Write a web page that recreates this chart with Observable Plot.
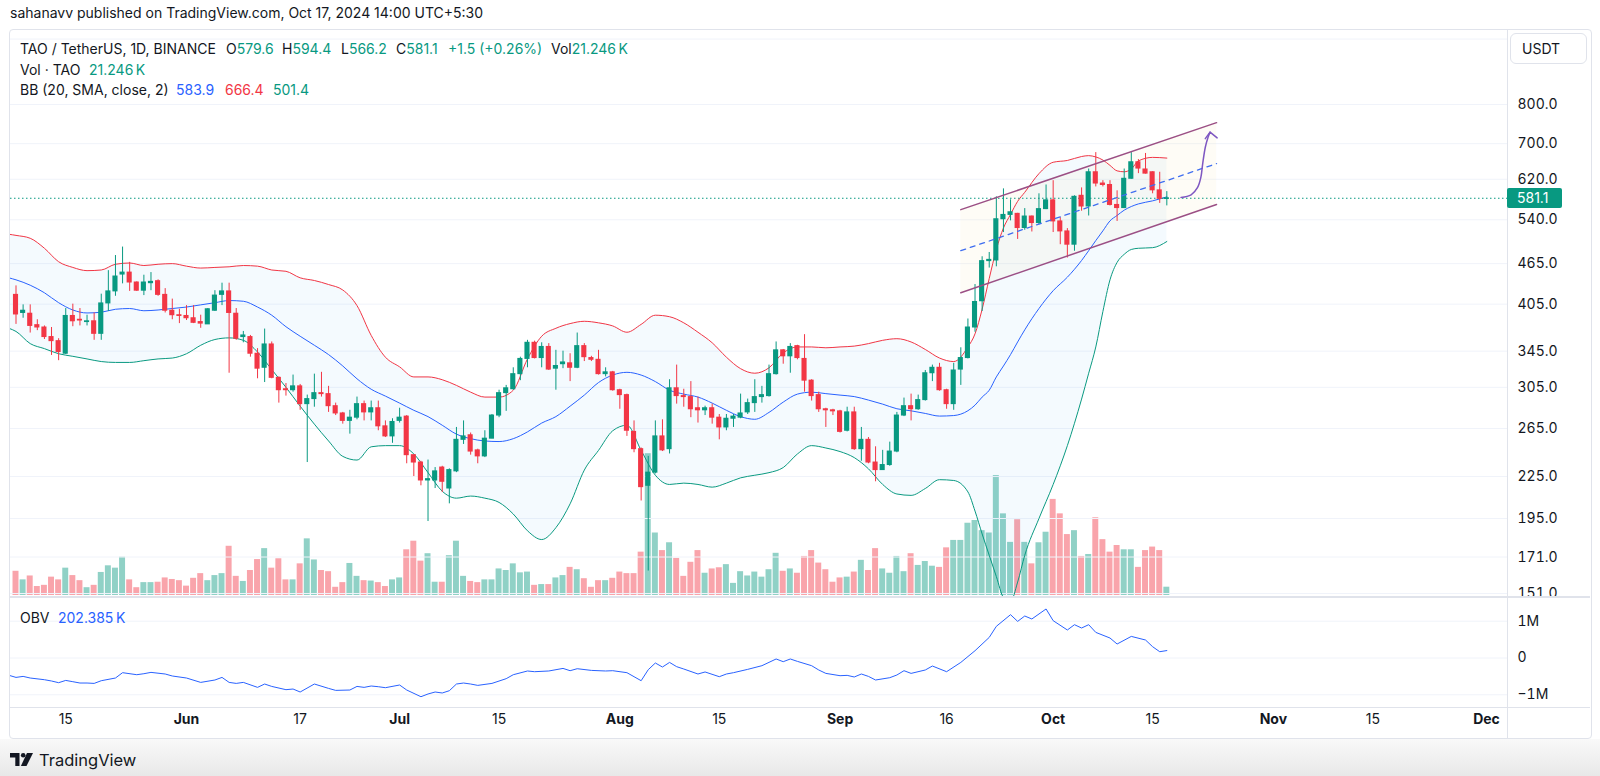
<!DOCTYPE html>
<html><head><meta charset="utf-8">
<script src="https://cdn.jsdelivr.net/npm/d3@7"></script>
<script src="https://cdn.jsdelivr.net/npm/@observablehq/plot@0.6"></script>
<style>
html,body{margin:0;padding:0;background:#fff;}
body{width:1600px;height:776px;position:relative;overflow:hidden;font-family:Inter,"Noto Sans",sans-serif;color:#131722;}
.abs{position:absolute;white-space:nowrap;}
.leg{font-size:14px;line-height:16px;}
.teal{color:#089981}.blue{color:#2962ff}.red{color:#f23645}
</style></head><body>
<div class="abs" style="left:0;top:739px;width:1600px;height:37px;background:linear-gradient(#f9f9f9,#e8e8e8)"></div>
<div class="abs" style="left:9px;top:29px;width:1581px;height:708px;border:1px solid #e0e3eb;border-radius:4px;background:#fff"></div>
<div class="abs" style="left:10px;top:4px;font-size:14px;line-height:17px">sahanavv published on TradingView.com, Oct 17, 2024 14:00 UTC+5:30</div>
<div id="volBox" class="abs" style="left:10px;top:30px;width:1580px;height:567px"></div>
<div id="priceBox" class="abs" style="left:10px;top:30px;width:1580px;height:567px"></div>
<div id="obvBox" class="abs" style="left:10px;top:597px;width:1580px;height:142px"></div>
<div class="abs" style="left:10px;top:596px;width:1580px;height:2px;background:#e0e3eb"></div>
<div class="abs" style="left:10px;top:707px;width:1580px;height:1px;background:#e0e3eb"></div>
<div class="abs" style="left:1507px;top:30px;width:1px;height:708px;background:#e0e3eb"></div>
<div class="abs" style="left:1510px;top:33px;width:75px;height:29px;border:1px solid #e0e3eb;border-radius:6px;background:#fff"></div>
<div class="abs leg" style="left:1522px;top:41px">USDT</div>
<div id="lastLbl" class="abs leg" style="left:1507px;width:55px;height:20px;background:#089981;color:#fff;border-radius:2px;line-height:20px;padding-left:10px;box-sizing:border-box">581.1</div>
<!-- legend -->
<div class="abs leg" style="left:20px;top:41px">TAO / TetherUS, 1D, BINANCE</div>
<div class="abs leg" style="left:226px;top:41px">O<span class="teal">579.6</span></div>
<div class="abs leg" style="left:282px;top:41px">H<span class="teal">594.4</span></div>
<div class="abs leg" style="left:341px;top:41px">L<span class="teal">566.2</span></div>
<div class="abs leg" style="left:396px;top:41px">C<span class="teal">581.1</span></div>
<div class="abs leg teal" style="left:448px;top:41px">+1.5 (+0.26%)</div>
<div class="abs leg" style="left:551px;top:41px">Vol<span class="teal">21.246&#8201;K</span></div>
<div class="abs leg" style="left:20px;top:62px">Vol · TAO</div>
<div class="abs leg teal" style="left:89px;top:62px">21.246&#8201;K</div>
<div class="abs leg" style="left:20px;top:82px">BB (20, SMA, close, 2)</div>
<div class="abs leg blue" style="left:176px;top:82px">583.9</div>
<div class="abs leg red" style="left:225px;top:82px">666.4</div>
<div class="abs leg teal" style="left:273px;top:82px">501.4</div>
<div class="abs leg" style="left:20px;top:610px">OBV</div>
<div class="abs leg blue" style="left:58px;top:610px">202.385&#8201;K</div>
<svg class="abs" style="left:10px;top:753px" width="25" height="13" viewBox="0 0 25 13"><path d="M0 0h9.5v13h-4.2v-8.6H0z" fill="#131722"/><circle cx="13.2" cy="2.3" r="2.3" fill="#131722"/><path d="M17 0h6l-6.5 13h-5.6z" fill="#131722"/></svg>
<div class="abs" style="left:39px;top:750px;font-size:16.5px;line-height:20px">TradingView</div>
<script>
// ---- daily candles (from 2024-05-08) ----
const open = [418,393,392,377,374,362,357,342,389,384, 381,382,366,406,423,448,451,436,424,435,
 438,418,396,390,389,386,381,378,396,418, 423,392,362,362,342,326,353,315,303,302,
 306,288,293,299,298,286,279,272,275,288, 280,284,267,258,272,276,242,236,222,222,
 232,216,229,255,259,246,241,256,277,299, 303,319,336,355,337,350,325,330,331,326,
 351,337,335,319,321,302,297,262,247,218, 228,258,247,304,296,295,284,282,284,275,
 266,274,275,280,289,295,296,319,346,339, 351,336,312,297,283,282,281,263,280,247,
 255,236,230,234,245,277,286,283,292,320, 326,302,288,324,337,374,409,469,470,541,
 549,551,525,546,534,560,577,537,519,496, 586,565,635,611,608,568,562,621,657,641,
 635,597,579.6];
const high = [431,404,404,384,376,374,360,399,405,399, 390,393,419,454,478,492,467,437,447,451,
 440,427,412,398,403,403,390,399,424,435, 435,399,369,364,348,372,356,316,309,318,
 308,297,319,321,306,289,280,282,295,291, 291,291,272,274,284,277,242,237,238,232,
 233,231,266,272,261,247,263,278,302,307, 326,338,358,357,355,354,346,345,342,367,
 354,339,346,326,322,303,298,272,248,241, 272,273,313,329,303,311,295,286,288,278,
 278,278,298,293,313,306,329,356,347,354, 352,365,313,300,284,283,282,285,285,266,
 257,249,246,253,280,294,298,297,323,329, 331,303,331,349,385,433,476,483,584,600,
 578,552,561,547,590,608,617,544,524,586, 602,642,679,617,617,596,642,679,663,677,
 636,635,594.4];
const low = [378,386,367,370,359,340,334,341,375,376, 376,358,358,395,416,434,423,423,417,424,
 416,393,384,379,383,379,373,378,395,403, 320,358,355,338,314,310,314,289,296,300,
 282,236,285,295,280,277,269,260,273,272, 272,263,257,252,270,235,225,218,193,216,
 213,205,228,251,242,235,240,256,275,281, 302,312,326,336,326,323,302,325,311,325,
 333,333,318,316,301,283,258,244,207,163, 227,245,243,288,285,275,270,277,269,255,
 263,266,274,278,280,289,295,318,330,320, 335,300,291,280,266,277,261,262,246,237,
 235,221,230,233,244,276,272,282,291,311, 301,283,282,307,336,368,395,458,460,517,
 538,505,521,518,531,559,517,496,474,485, 556,547,604,604,566,537,561,620,632,631,
 590,571,566.2];
const close = [391,396,376,374,362,357,344,389,382,383, 382,366,406,423,445,451,436,424,436,437,
 418,396,390,389,386,380,379,398,417,423, 393,360,364,342,325,353,315,302,302,306,
 288,293,299,298,286,279,272,275,288,280, 284,267,258,271,275,242,236,222,223,229,
 221,230,255,258,245,241,256,277,299,304, 319,336,355,337,350,324,328,332,326,351,
 338,335,319,321,302,297,263,247,217,228, 258,246,304,296,295,283,282,284,275,266,
 274,276,279,289,295,297,319,346,339,350, 337,312,296,283,282,281,262,280,247,255,
 236,230,234,245,277,286,283,292,320,326, 302,288,323,337,374,408,469,471,541,549,
 554,525,546,534,560,577,537,519,496,584, 565,635,611,608,568,562,621,657,643,632,
 597,580,581.1];
// volume, thousands of TAO
const volume = [62,40,50,23,26,47,40,70,51,38, 20,26,59,76,70,98,40,20,33,33,
 34,45,41,38,24,44,56,38,51,56, 126,49,36,64,92,120,70,94,40,40,
 81,145,91,64,61,21,33,82,49,38, 37,33,23,40,45,117,139,88,107,34,
 34,102,139,49,36,33,40,40,68,64, 81,58,60,26,28,28,45,51,72,66,
 43,21,38,38,44,60,56,56,111,363, 160,115,135,95,49,85,115,57,68,71,
 79,31,61,50,60,47,66,108,62,68, 57,100,115,83,66,34,45,47,60,90,
 64,120,68,57,100,61,107,77,87,75, 72,122,141,141,185,192,166,160,307,209,
 136,194,136,81,135,162,246,209,156,166, 100,105,199,143,111,128,117,117,72,115,
 124,115,21.246];
// ---- Bollinger Bands (20, SMA, close, 2), sampled days after 2024-05-08 ----
const bbDay = [-1,0,2,4,6,8,10,12,14,16, 18,20,22,24,26,28,30,32,34,36, 38,40,42,44,46,48,50,52,54,56,
 58,60,62,64,66,68,70,72,74,76, 78,80,82,84,86,88,90,92,94,96, 98,100,102,104,106,108,110,112,114,116,
 118,120,122,124,126,128,130,132,134,135, 136,137,138,139,140,141,142,144,146,148,
 150,151,152,153,154,155,156,157,158,160, 162];
const bbUpper = [514,512,507,490,468,459,454,455,464,466, 462,464,465,461,458,459,460,462,461,455,
 453,443,439,433,425,403,364,338,327,316, 316,313,307,300,295,295,302,336,363,373,
 379,382,380,376,368,378,390,388,380,368, 355,338,325,320,326,343,350,350,349,350,
 351,354,358,360,356,347,337,333,350,366, 398,442,488,525,550,575,593,632,657,661,
 670,672,669,662,650,638,636,642,660,668, 666.4];
const bbBasis = [443,440,432,421,407,397,393,394,398,399, 396,397,399,401,404,407,410,409,401,390,
 375,363,352,341,328,314,303,296,289,282, 276,268,260,256,254,253.5,256,262,270,276,
 286,297,310,318,321,318,311,302,298,295, 289,282,276,273.5,280,290,298,300,298.5,297,
 295.5,292,288,283.5,281.5,279,276.5,277,281.6,287, 295,302,316,328,341,356,371,399,424,444,
 470,486,503,520,538,548,558,565,570,576, 583.9];
const bbLower = [373,369,354,348,342,339,336,333,332,332, 334,336,337,342,352,359,361,358,344,324,
 305,286,269,254,241,238,249,250,250,243, 228,214,209,210.5,209,206,198,187,181.5,189,
 205,230,246,263,268,246,226,219,220,219, 217,220,224,226,228,232,243,250,248,245,
 240,231,219,212,211,216,222.6,222,213.5,200, 185,172,160,149,147,157,172,195,219,250,
 293,320,350,395,440,467,480,488,490,491, 501.4];
// ---- OBV (thousands), sampled days after 2024-05-08 ----
const obvDay = [-1,0,1,2,4,5,6,7,8,9, 10,11,12,14,15,17,18,19,21,22, 24,26,28,29,30,31,32,34,35,36,
 38,39,40,42,44,45,47,48,49,50, 51,52,54,55,57,58,59,60,61,62, 63,64,65,67,69,70,72,73,75,77,
 78,79,81,83,84,86,87,88,89,90, 91,92,93,94,96,97,99,100,101,103, 105,107,108,109,110,112,113,114,116,117,
 118,119,120,121,123,124,125,126,128,129, 131,133,135,137,138,140,141,142,143,145,
 146,148,149,150,151,152,154,155,157,159, 160,161,162];
const obvK = [-470,-527,-500,-544,-590,-625,-671,-609,-644,-680, -680,-690,-617,-544,-399,-454,-427,-391,-435,-489,
 -544,-663,-598,-527,-663,-690,-663,-798,-707,-772, -861,-843,-924,-707,-826,-880,-870,-772,-798,-761,
 -780,-807,-734,-870,-1052,-978,-924,-951,-889,-707, -680,-707,-744,-690,-562,-454,-353,-372,-353,-283,
 -345,-291,-337,-353,-345,-399,-508,-617,-318,-136, -245,-120,-236,-299,-435,-380,-508,-435,-399,-309,
 -209,-27,-100,-27,-92,-209,-326,-418,-481,-472, -516,-435,-500,-598,-535,-462,-345,-418,-326,-218,
 -372,-120,198,560,860,1177,995,1141,1060,1332, 1014,761,905,815,905,696,543,380,587,489,
 307,171,202];
// ---- axes ----
const priceTicks = [800,700,620,540,465,405,345,305,265,225,195,171,151];
const gridPrices = [1000,800,700,620,540,465,405,345,305,265,225,195,171,151];
const lastClose = 581.1;
const xTickDates = ["2024-05-15","2024-06-01","2024-06-17","2024-07-01","2024-07-15","2024-08-01","2024-08-15",
 "2024-09-01","2024-09-16","2024-10-01","2024-10-15","2024-11-01","2024-11-15","2024-12-01"];
const xTickLabels = ["15","Jun","17","Jul","15","Aug","15","Sep","16","Oct","15","Nov","15","Dec"];
const obvTicks = [-1000,0,1000];
const obvTickLabels = ["\u22121M","0","1M"];
// ---- drawings: parallel channel + projected arrow ----
const chanDates = ["2024-09-18","2024-10-24"];
const chanUpper = [559,752];
const chanMid = [486,654];
const chanLower = [421,569];
const arrowTimes = ["2024-10-19T00:00Z","2024-10-20T10:00Z","2024-10-21T08:00Z","2024-10-21T19:00Z","2024-10-22T01:00Z","2024-10-22T10:00Z","2024-10-22T19:00Z","2024-10-23T02:00Z"];
const arrowPrices = [582.6,588,603,624,653,691.5,715,728];
const headTimes = ["2024-10-22T10:00Z","2024-10-23T02:00Z","2024-10-24T02:00Z"];
const headPrices = [712,728,714];

const DAY = 864e5;
const start = new Date(Date.UTC(2024,4,8));
const dates = d3.utcDay.range(start, d3.utcDay.offset(start, open.length));
const candles = dates.map((d,i)=>({date:d, open:open[i], high:high[i], low:low[i], close:close[i], volume:volume[i]}));
const UP = "#089981", DOWN = "#f23645";
const colorOf = d => d.close >= d.open ? UP : DOWN;
const bb = bbDay.map((k,j)=>({date:d3.utcDay.offset(start,k), upper:bbUpper[j], basis:bbBasis[j], lower:bbLower[j]}));
const obvRows = obvDay.map((k,j)=>({date:d3.utcDay.offset(start,k), v:obvK[j]}));
const chan = chanDates.map((s,j)=>({date:new Date(s), upper:chanUpper[j], mid:chanMid[j], lower:chanLower[j]}));
const arrow = arrowTimes.map((s,j)=>({date:new Date(s), p:arrowPrices[j]}));
const head = headTimes.map((s,j)=>({date:new Date(s), p:headPrices[j]}));
const xTicks = xTickDates.map((s,j)=>({date:new Date(s), label:xTickLabels[j], bold:isNaN(+xTickLabels[j])}));

const W = 1580;
const xOpt = {type:"utc", domain:[new Date(Date.UTC(2024,5,1)), new Date(Date.UTC(2024,11,1))], range:[176,1476], axis:null};
const baseStyle = {background:"transparent", fontFamily:"Inter, 'Noto Sans', sans-serif", fontSize:"14px", color:"#131722"};

const volPlot = Plot.plot({
  width:W, height:567, marginLeft:0, marginRight:83, marginTop:0, marginBottom:0,
  style:baseStyle, x:xOpt,
  y:{type:"linear", domain:[0,256], range:[565,465], axis:null},
  marks:[
    Plot.rect(candles, {x1:d=>new Date(+d.date-0.42*DAY), x2:d=>new Date(+d.date+0.42*DAY), y1:0, y2:"volume",
      fill:d=>d.close>=d.open ? "rgba(8,153,129,0.45)" : "rgba(242,54,69,0.45)", clip:true})
  ]
});
document.getElementById("volBox").appendChild(volPlot);

const pricePlot = Plot.plot({
  width:W, height:567, marginLeft:0, marginRight:83, marginTop:0, marginBottom:0,
  style:baseStyle, x:xOpt,
  y:{type:"log", domain:[151,800], range:[563,74], axis:null},
  marks:[
    Plot.ruleY(gridPrices, {stroke:"#f0f3fa"}),
    Plot.areaY(bb, {x:"date", y1:"lower", y2:"upper", fill:"#2196f3", fillOpacity:0.05, curve:"monotone-x", clip:true}),
    Plot.areaY(chan, {x:"date", y1:"lower", y2:"upper", fill:"#f5e6b8", fillOpacity:0.12, clip:true}),
    Plot.lineY(bb, {x:"date", y:"upper", stroke:"#f23645", strokeWidth:1, curve:"monotone-x", clip:true}),
    Plot.lineY(bb, {x:"date", y:"basis", stroke:"#2962ff", strokeWidth:1, curve:"monotone-x", clip:true}),
    Plot.lineY(bb, {x:"date", y:"lower", stroke:"#089981", strokeWidth:1, curve:"monotone-x", clip:true}),
    Plot.ruleY([lastClose], {stroke:"#089981", strokeDasharray:"1.5,2.5"}),
    Plot.ruleX(candles, {x:"date", y1:"low", y2:"high", stroke:colorOf, strokeWidth:1, clip:true}),
    Plot.rect(candles, {x1:d=>new Date(+d.date-0.36*DAY), x2:d=>new Date(+d.date+0.36*DAY), y1:"open", y2:"close",
      fill:colorOf, insetTop:-0.5, insetBottom:-0.5, clip:true}),
    Plot.line(chan, {x:"date", y:"upper", stroke:"#9b4f85", strokeWidth:1.5}),
    Plot.line(chan, {x:"date", y:"lower", stroke:"#9b4f85", strokeWidth:1.5}),
    Plot.line(chan, {x:"date", y:"mid", stroke:"#3f6ef0", strokeWidth:1.3, strokeDasharray:"5,5"}),
    Plot.line(arrow, {x:"date", y:"p", stroke:"#7e57c2", strokeWidth:1.5, curve:"catmull-rom"}),
    Plot.line(head, {x:"date", y:"p", stroke:"#7e57c2", strokeWidth:1.5}),
    Plot.axisY({anchor:"right", ticks:priceTicks, tickFormat:d=>d.toFixed(1), tickSize:0, tickPadding:10, label:null, color:"#131722", fontSize:14})
  ]
});
document.getElementById("priceBox").appendChild(pricePlot);
const yS = pricePlot.scale("y");
document.getElementById("lastLbl").style.top = (30 + yS.apply(lastClose) - 10) + "px";

const obvPlot = Plot.plot({
  width:W, height:142, marginLeft:0, marginRight:83, marginTop:0, marginBottom:0,
  style:baseStyle, x:xOpt,
  y:{type:"linear", domain:[-1000,1000], range:[97.3,23.7], axis:null},
  marks:[
    Plot.ruleY(obvTicks, {stroke:"#f0f3fa"}),
    Plot.lineY(obvRows, {x:"date", y:"v", stroke:"#2962ff", strokeWidth:1, clip:true}),
    Plot.axisY({anchor:"right", ticks:obvTicks, tickFormat:d=>obvTickLabels[obvTicks.indexOf(d)], tickSize:0, tickPadding:10, label:null, color:"#131722", fontSize:14}),
    Plot.text(xTicks.filter(d=>d.bold), {x:"date", text:"label", frameAnchor:"bottom", dy:-16, fontWeight:"bold", fill:"#131722", fontSize:14}),
    Plot.text(xTicks.filter(d=>!d.bold), {x:"date", text:"label", frameAnchor:"bottom", dy:-16, fill:"#131722", fontSize:14})
  ]
});
document.getElementById("obvBox").appendChild(obvPlot);
</script>
</body></html>
